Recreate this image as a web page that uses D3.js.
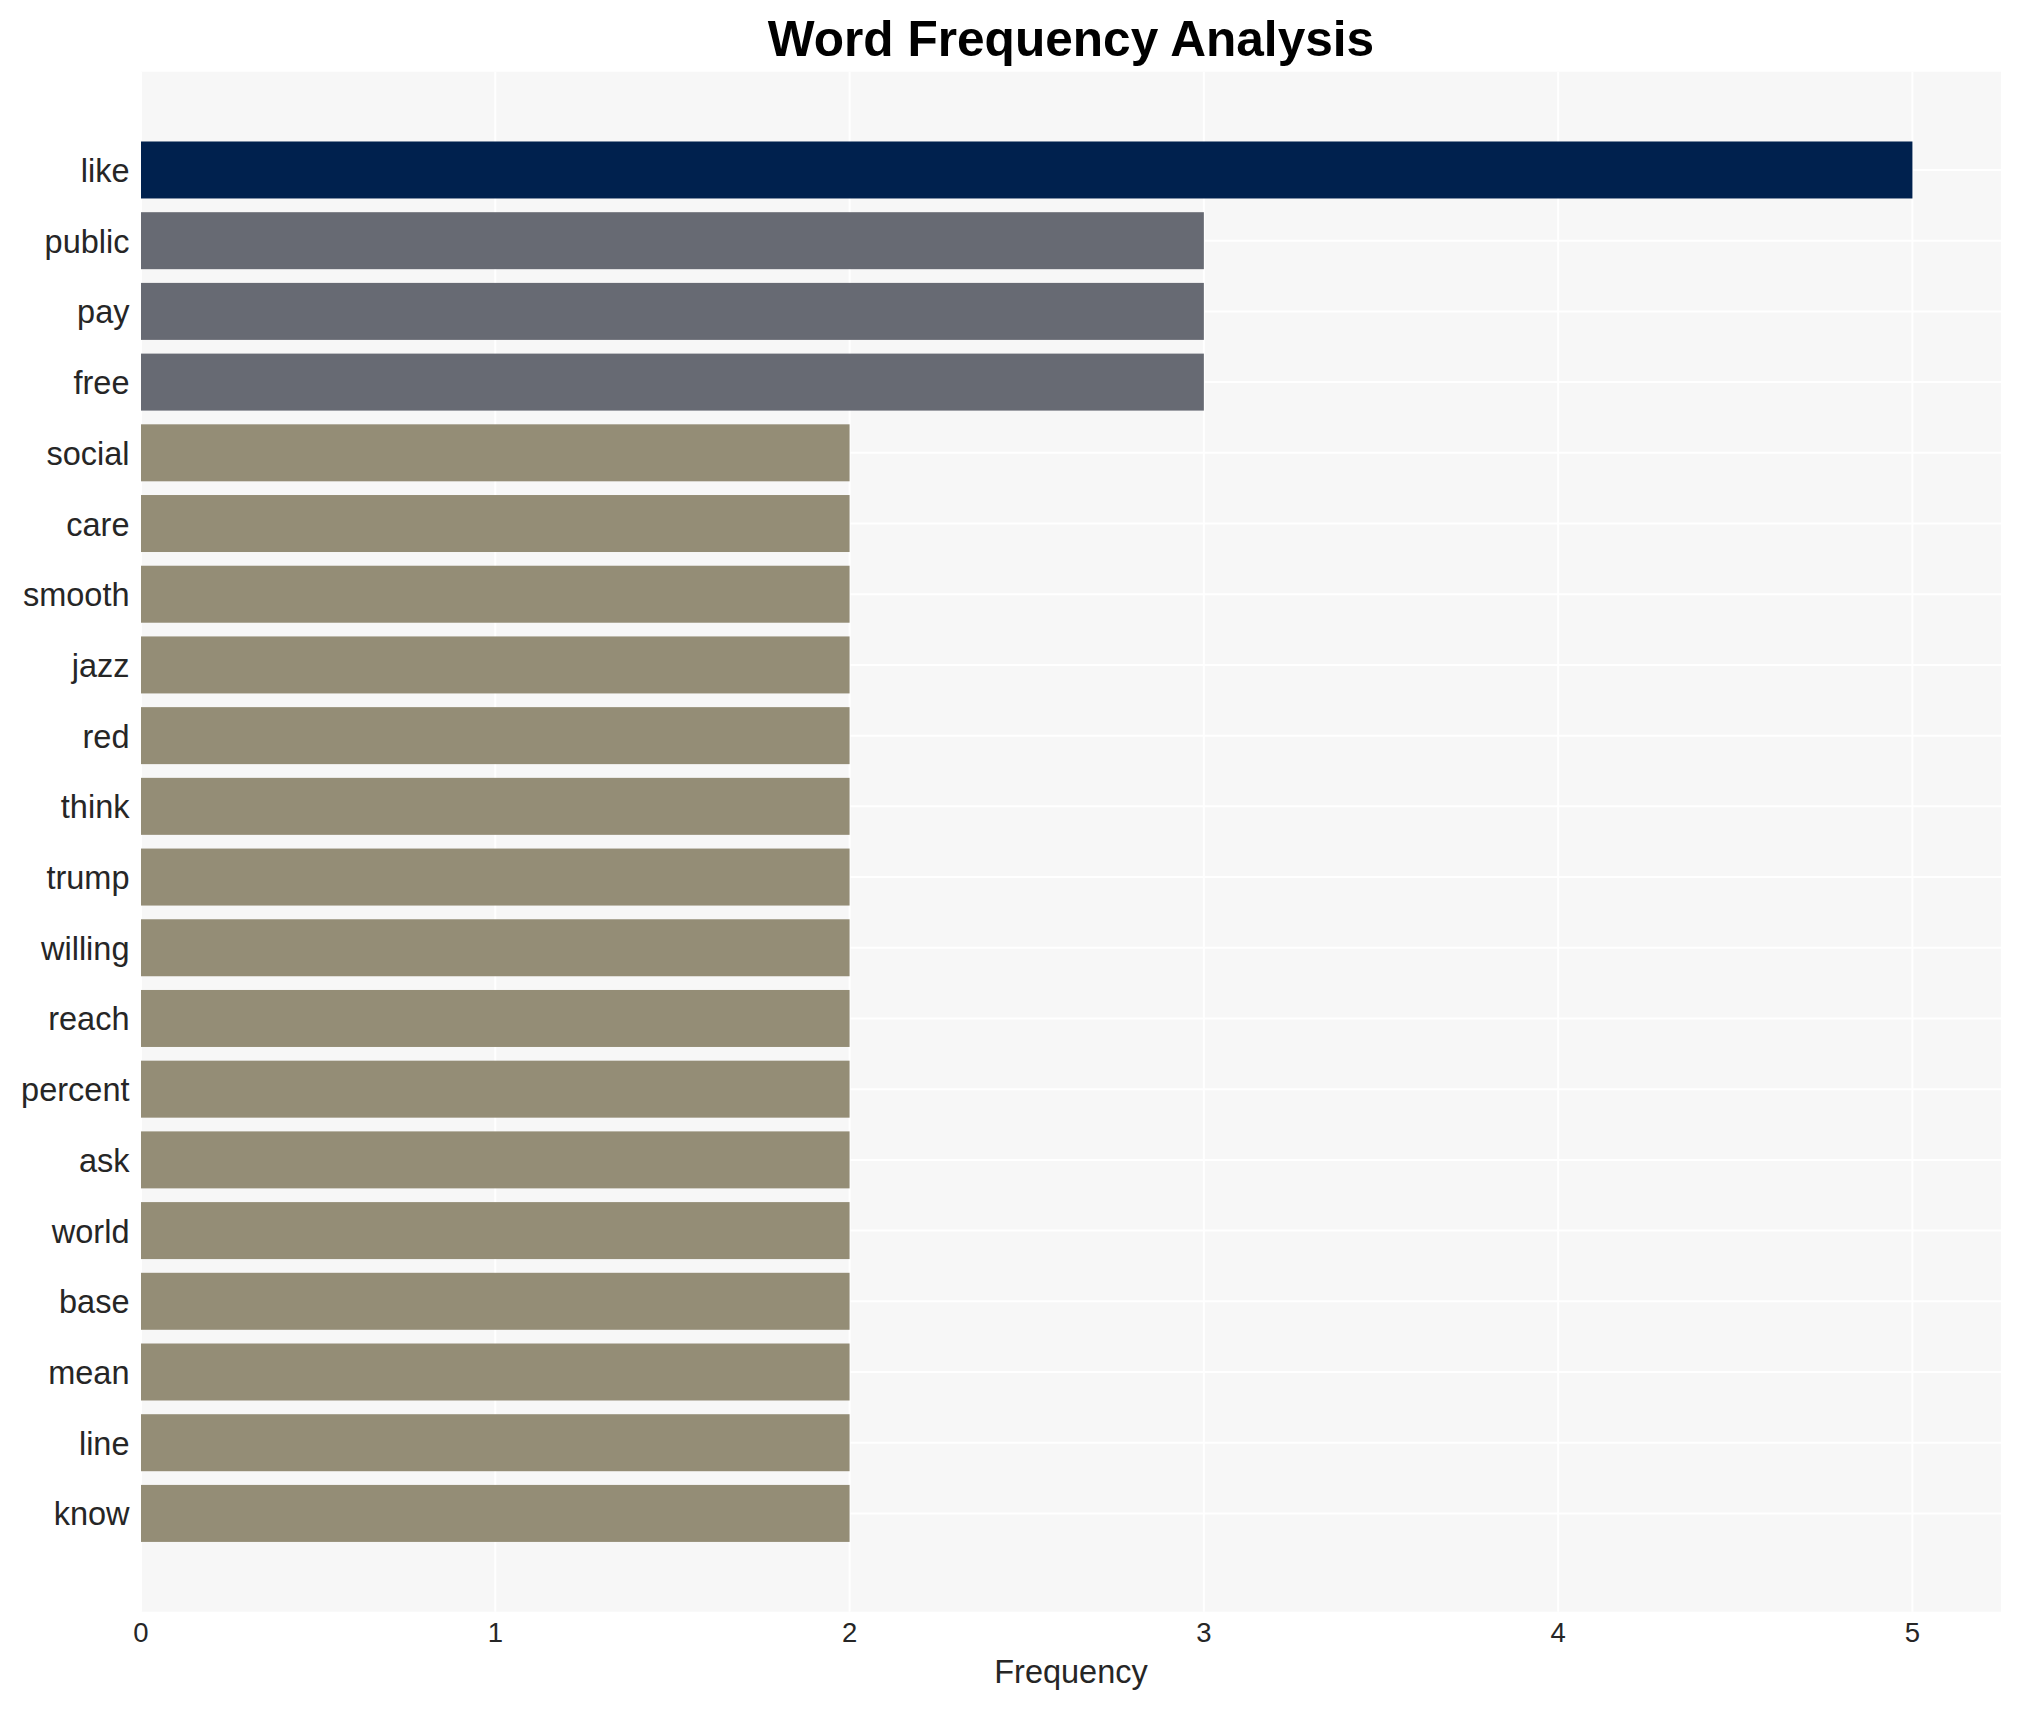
<!DOCTYPE html>
<html>
<head>
<meta charset="utf-8">
<script src="https://cdn.jsdelivr.net/npm/d3@7"></script>
<style>
  html, body { margin: 0; padding: 0; background: #ffffff; }
  svg { display: block; }
</style>
</head>
<body>
<svg id="chart" width="2020" height="1710"></svg>
<script>
// ---- data ----
const words = ["like", "public", "pay", "free", "social", "care", "smooth", "jazz", "red", "think",
               "trump", "willing", "reach", "percent", "ask", "world", "base", "mean", "line", "know"];
const frequencies = [5, 3, 3, 3, 2, 2, 2, 2, 2, 2, 2, 2, 2, 2, 2, 2, 2, 2, 2, 2];
const xTicks = [0, 1, 2, 3, 4, 5];
const titleText = "Word Frequency Analysis";
const xAxisLabel = "Frequency";

// ---- layout ----
const W = 2020, H = 1710;
const panel = { left: 141, right: 2001, top: 71.7, bottom: 1611.7 };
const pad = 1.39;        // band-units of padding above first / below last bar
const barFrac = 0.806;   // bar thickness as fraction of category step

const svg = d3.select("#chart");
const font = "'Liberation Sans', Arial, Helvetica, sans-serif";

const x = d3.scaleLinear().domain([0, 5.25]).range([panel.left, panel.right]);
const y = d3.scaleLinear().domain([-pad, words.length - 1 + pad]).range([panel.top, panel.bottom]);
const step = y(1) - y(0);

function colorFor(v) {
  if (v >= 5) return "#00214e";
  if (v >= 3) return "#676a73";
  return "#948d76";
}

// panel background
svg.append("rect")
  .attr("x", panel.left).attr("y", panel.top)
  .attr("width", panel.right - panel.left).attr("height", panel.bottom - panel.top)
  .attr("fill", "#f7f7f7");

// horizontal gridlines at category centres
svg.append("g").selectAll("line").data(words).join("line")
  .attr("x1", panel.left).attr("x2", panel.right)
  .attr("y1", (d, i) => y(i)).attr("y2", (d, i) => y(i))
  .attr("stroke", "#ffffff").attr("stroke-width", 2);

// vertical gridlines
svg.append("g").selectAll("line").data(xTicks).join("line")
  .attr("x1", d => x(d)).attr("x2", d => x(d))
  .attr("y1", panel.top).attr("y2", panel.bottom)
  .attr("stroke", "#ffffff").attr("stroke-width", 2);

// bars
svg.append("g").selectAll("rect").data(words).join("rect")
  .attr("x", x(0))
  .attr("y", (d, i) => y(i) - step * barFrac / 2)
  .attr("width", (d, i) => x(frequencies[i]) - x(0))
  .attr("height", step * barFrac)
  .attr("fill", (d, i) => colorFor(frequencies[i]));

// y labels
svg.append("g").selectAll("text").data(words).join("text")
  .attr("x", 129.5)
  .attr("y", (d, i) => y(i))
  .attr("dy", "0.37em")
  .attr("text-anchor", "end")
  .attr("font-family", font)
  .attr("font-size", 32.5)
  .attr("fill", "#262626")
  .text(d => d);

// x tick labels
svg.append("g").selectAll("text").data(xTicks).join("text")
  .attr("x", d => x(d))
  .attr("y", 1642.3)
  .attr("text-anchor", "middle")
  .attr("font-family", font)
  .attr("font-size", 27.5)
  .attr("fill", "#262626")
  .text(d => d);

// x axis title
svg.append("text")
  .attr("x", (panel.left + panel.right) / 2)
  .attr("y", 1682.7)
  .attr("text-anchor", "middle")
  .attr("font-family", font)
  .attr("font-size", 32.5)
  .attr("fill", "#262626")
  .text(xAxisLabel);

// chart title
svg.append("text")
  .attr("x", (panel.left + panel.right) / 2)
  .attr("y", 55.7)
  .attr("text-anchor", "middle")
  .attr("font-family", font)
  .attr("font-size", 49.6)
  .attr("font-weight", "bold")
  .attr("fill", "#000000")
  .text(titleText);
</script>
</body>
</html>
